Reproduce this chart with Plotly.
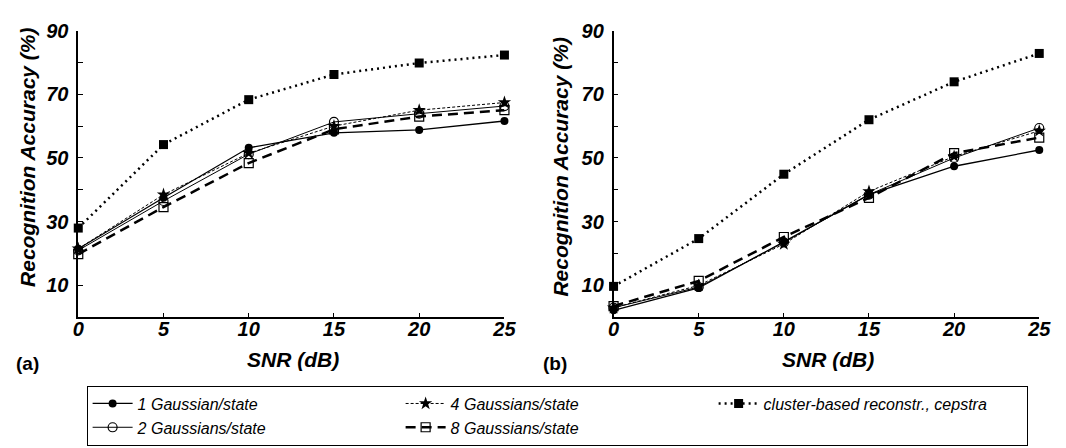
import plotly.graph_objects as go

# ---------------- data ----------------
snr = [0, 5, 10, 15, 20, 25]

# panel (a)
a_g1 = [21.5, 37.5, 53.2, 57.9, 58.8, 61.6]
a_g2 = [21.0, 36.5, 51.2, 61.3, 63.9, 66.3]
a_g4 = [21.5, 38.5, 51.5, 60.0, 65.0, 67.4]
a_g8 = [19.8, 34.6, 48.4, 59.0, 63.0, 65.0]
a_cl = [28.0, 54.2, 68.3, 76.2, 79.8, 82.3]

# panel (b)
b_g1 = [2.2, 9.2, 23.7, 38.5, 47.4, 52.5]
b_g2 = [3.0, 9.5, 23.5, 38.5, 50.0, 59.4]
b_g4 = [3.0, 10.0, 23.0, 39.5, 50.5, 58.5]
b_g8 = [3.5, 11.4, 25.2, 37.5, 51.5, 56.4]
b_cl = [9.7, 24.7, 44.9, 62.0, 73.9, 82.8]

names = ["1 Gaussian/state", "2 Gaussians/state", "4 Gaussians/state",
         "8 Gaussians/state", "cluster-based reconstr., cepstra"]

x_tickvals = [0, 5, 10, 15, 20, 25]
x_ticktext = ["0", "5", "10", "15", "20", "25"]
y_tickvals = [10, 20, 30, 40, 50, 60, 70, 80, 90]
y_ticktext = ["10", "", "30", "", "50", "", "70", "", "90"]

y_title = "Recognition Accuracy (%)"
x_title = "SNR (dB)"
panel_labels = ["(a)", "(b)"]

# ---------------- layout helpers ----------------
W, H = 1066, 448
def px(x):
    return x / W
def py(y):
    return 1 - y / H

FONT = "Liberation Sans, Arial, sans-serif"

styles = {
    0: dict(line=dict(color="black", width=1.3, dash="solid"),
            marker=dict(symbol="circle", size=8, color="black")),
    1: dict(line=dict(color="black", width=1.0, dash="solid"),
            marker=dict(symbol="circle-open", size=9, color="black", line=dict(width=1.2))),
    2: dict(line=dict(color="black", width=1.0, dash="3px,2px"),
            marker=dict(symbol="star", size=10, color="black")),
    3: dict(line=dict(color="black", width=2.5, dash="10px,6px"),
            marker=dict(symbol="square-open", size=9, color="black", line=dict(width=1.2))),
    4: dict(line=dict(color="black", width=2.5, dash="2px,4px"),
            marker=dict(symbol="square", size=9, color="black")),
}

fig = go.Figure()

panel_data = [
    ([a_g1, a_g2, a_g4, a_g8, a_cl], "x", "y", True),
    ([b_g1, b_g2, b_g4, b_g8, b_cl], "x2", "y2", False),
]
# legend order: row1 1G, 4G, cluster ; row2 2G, 8G
legend_rank = {0: 1, 2: 2, 4: 3, 1: 4, 3: 5}

for series, xa, ya, show in panel_data:
    for i in [1, 3, 2, 0, 4]:
        fig.add_trace(go.Scatter(
            x=snr, y=series[i], mode="lines+markers", name=names[i],
            xaxis=xa, yaxis=ya, cliponaxis=False, showlegend=show,
            legendrank=legend_rank[i], **styles[i]))

tickfont = dict(family=FONT, size=20, color="black", weight="bold", style="italic")
axis_common = dict(showline=True, linecolor="black", linewidth=1.5,
                   ticks="inside", ticklen=5, tickwidth=1.2, tickcolor="black",
                   showgrid=False, zeroline=False, tickfont=tickfont)

ydom = [py(314), py(20)]
fig.update_layout(
    width=W, height=H,
    margin=dict(l=0, r=0, t=0, b=0),
    paper_bgcolor="white", plot_bgcolor="white",
    font=dict(family=FONT, color="black"),
    xaxis=dict(domain=[px(73.5), px(507)], range=[0, 25], anchor="y",
               tickvals=x_tickvals, ticktext=x_ticktext, ticklabelstandoff=-7,
               **axis_common),
    yaxis=dict(domain=ydom, range=[0, 90], anchor="x",
               tickvals=y_tickvals, ticktext=y_ticktext, ticklabelstandoff=4,
               **axis_common),
    xaxis2=dict(domain=[px(618), px(1051)], range=[0, 25], anchor="y2",
                tickvals=x_tickvals, ticktext=x_ticktext, ticklabelstandoff=-7,
                **axis_common),
    yaxis2=dict(domain=ydom, range=[0, 90], anchor="x2",
                tickvals=y_tickvals, ticktext=y_ticktext, ticklabelstandoff=4,
                **axis_common),
    legend=dict(orientation="h", x=px(82), y=py(384), xanchor="left", yanchor="top",
                bordercolor="black", borderwidth=1, bgcolor="white",
                entrywidth=258, entrywidthmode="pixels", itemwidth=40,
                font=dict(family=FONT, size=16, color="black", style="italic"),
                traceorder="normal"),
)

title_font = dict(family=FONT, size=21, color="black", weight="bold", style="italic")
ann = []
for cx, cy in [(22, 150), (564, 160)]:
    ann.append(dict(text=y_title, x=px(cx), y=py(cy), xref="paper", yref="paper",
                    textangle=-90, showarrow=False, font=title_font,
                    xanchor="center", yanchor="middle"))
for cx in [292, 836]:
    ann.append(dict(text=x_title, x=px(cx), y=py(357), xref="paper", yref="paper",
                    showarrow=False, font=title_font, xanchor="center", yanchor="middle"))
for lab, cx in zip(panel_labels, [22, 558]):
    ann.append(dict(text=lab, x=px(cx), y=py(361), xref="paper", yref="paper",
                    showarrow=False, xanchor="center", yanchor="middle",
                    font=dict(family=FONT, size=19, color="black", weight="bold")))
fig.update_layout(annotations=ann)

fig.write_html("out.html")
